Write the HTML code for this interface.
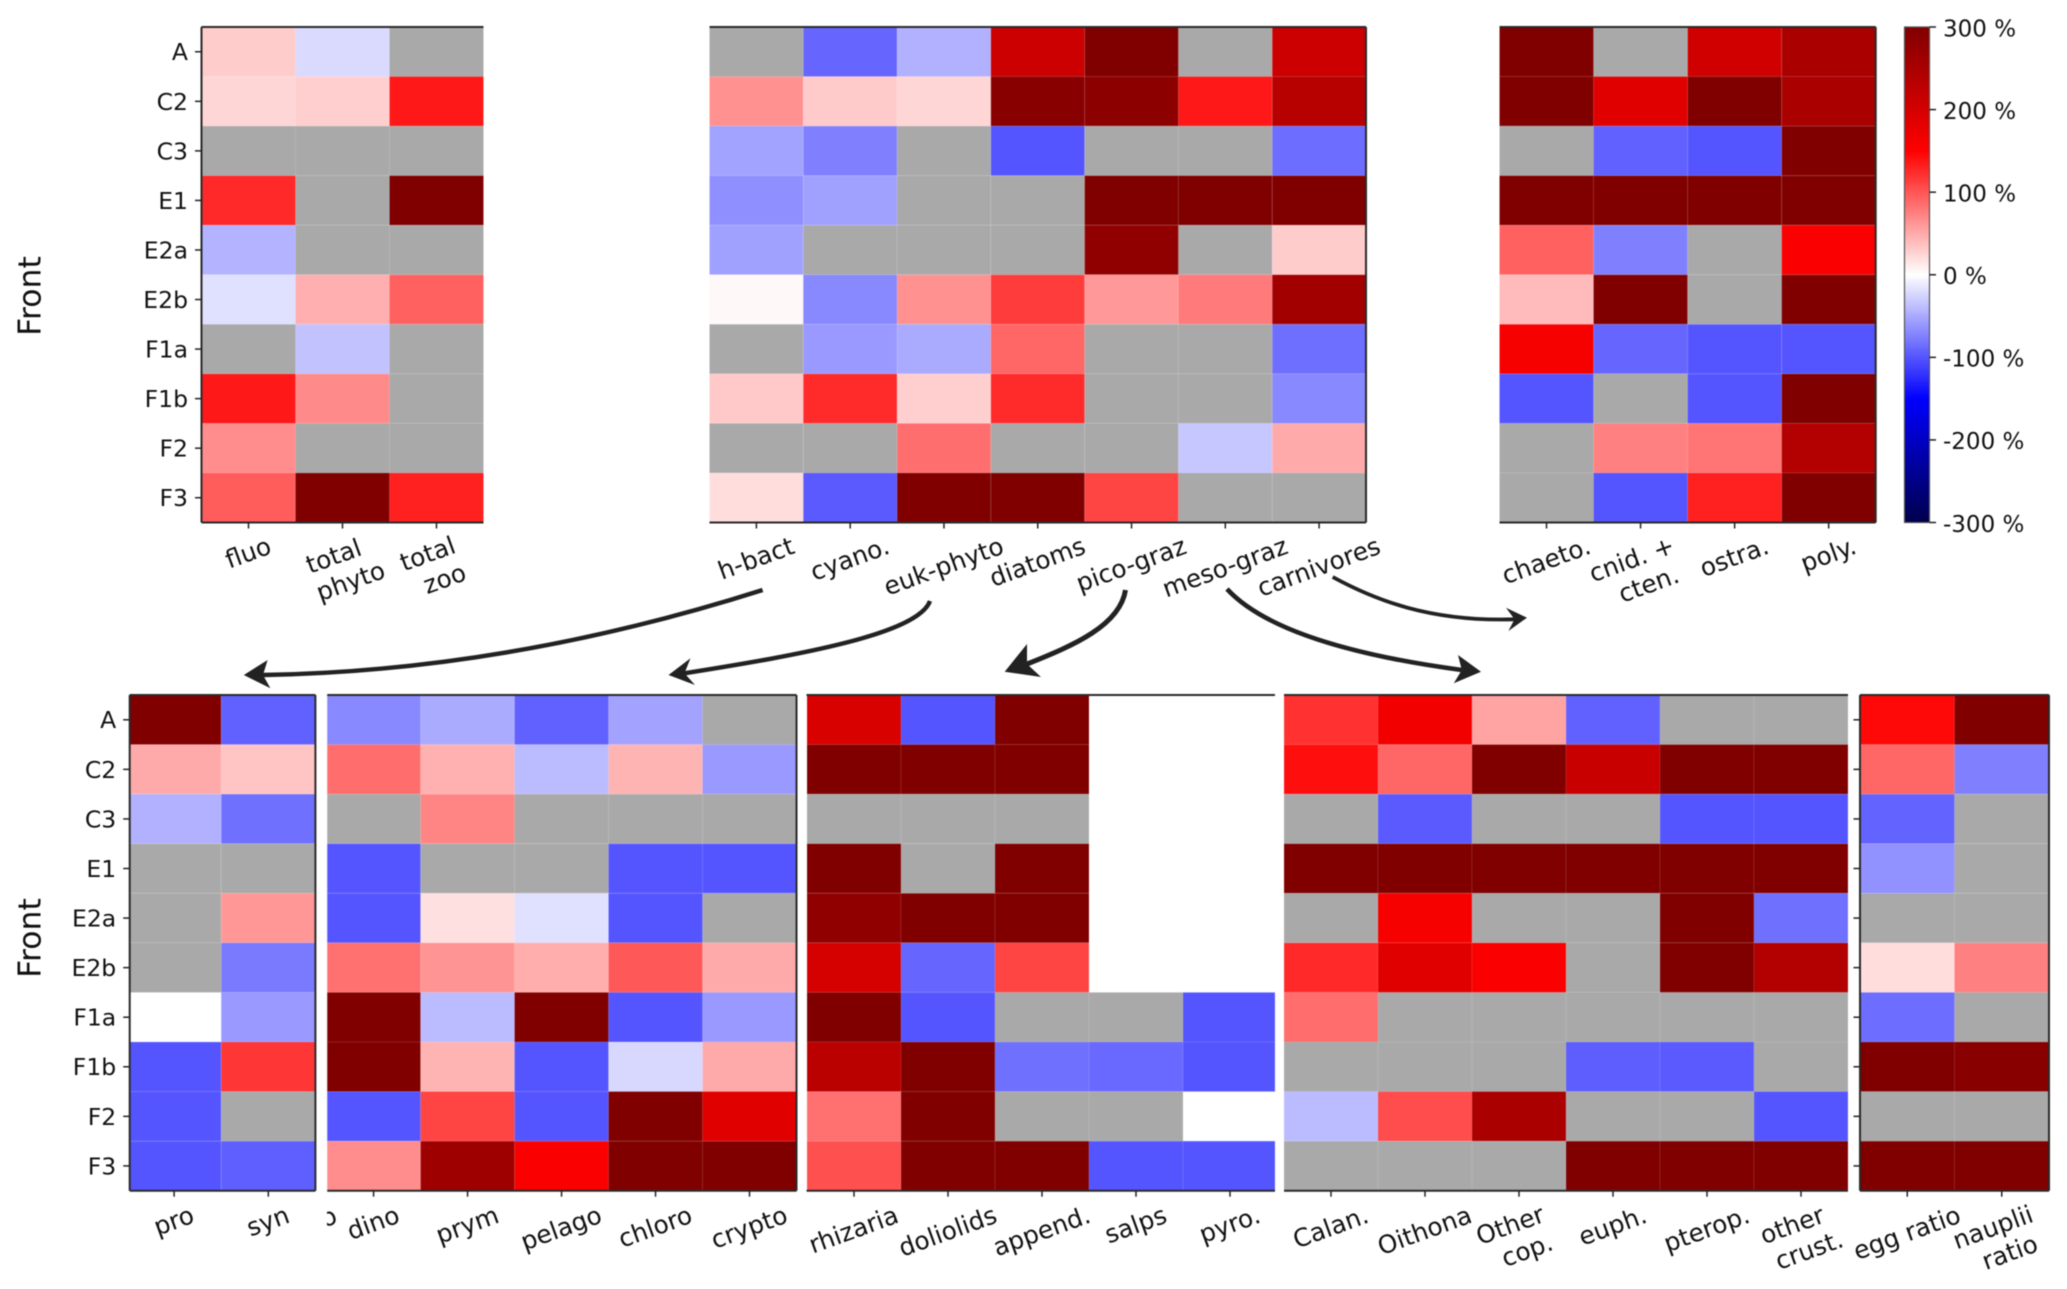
<!DOCTYPE html>
<html lang="en">
<head>
<meta charset="utf-8">
<title>Front heatmaps</title>
<style>
  html, body { margin: 0; padding: 0; background: #fff; }
  svg { display: block; filter: blur(0.45px); }
  text { font-family: "DejaVu Sans", "Liberation Sans", sans-serif; fill: #111; }
</style>
</head>
<body>
<svg id="figure" xmlns="http://www.w3.org/2000/svg" width="2067" height="1289" viewBox="0 0 2067 1289">
  <defs>
    <linearGradient id="seismic-gradient" x1="0" y1="0" x2="0" y2="1">
      <stop offset="0" stop-color="#800000"/>
      <stop offset="0.25" stop-color="#ff0000"/>
      <stop offset="0.5" stop-color="#ffffff"/>
      <stop offset="0.75" stop-color="#0000ff"/>
      <stop offset="1" stop-color="#00004c"/>
    </linearGradient>
  </defs>
  <rect x="0" y="0" width="2067" height="1289" fill="#ffffff"/>
  <g id="heatmaps"></g>
  <g id="colorbar">
    <rect x="1904.5" y="27" width="25" height="495.5" fill="url(#seismic-gradient)" stroke="#555" stroke-width="1.2"/>
  </g>
  <text transform="translate(29,296) rotate(-90)" text-anchor="middle" dy="0.36em" font-size="31.5">Front</text>
  <text transform="translate(29,938) rotate(-90)" text-anchor="middle" dy="0.36em" font-size="31.5">Front</text>

  <text transform="translate(329,1218) rotate(-20)" text-anchor="middle" dy="0.3em" font-size="24.8">o</text>
  <rect x="316.5" y="1200" width="10.5" height="40" fill="#ffffff"/>

  <g fill="#222222">
    <g>
      <path d="M762.6,590 Q507.8,671 263,675" fill="none" stroke="#222222" stroke-width="4.4"/>
      <polygon points="243.8,675 267.6,660 263,675 270.4,688.3"/>
    </g>
    <g>
      <path d="M930,601 C918,634 800,655 684.5,673.3" fill="none" stroke="#222222" stroke-width="4.4"/>
      <polygon points="668.5,675 690.5,658.3 684.5,673.3 695,685"/>
    </g>
    <g>
      <path d="M1125.5,590 C1120,625 1075,645 1027,664" fill="none" stroke="#222222" stroke-width="5"/>
      <polygon points="1004.7,671.7 1027,644 1027,664 1041,677"/>
    </g>
    <g>
      <path d="M1227,589 C1265,630 1350,655 1461.8,670" fill="none" stroke="#222222" stroke-width="4.6"/>
      <polygon points="1481,671.7 1458,655 1461.8,670 1453.8,683.3"/>
    </g>
    <g>
      <path d="M1332.7,577 C1375,600 1430,622 1514.5,619.3" fill="none" stroke="#222222" stroke-width="3.8"/>
      <polygon points="1527,617.7 1506,607.7 1514.5,619.3 1508.4,631"/>
    </g>
  </g>
</svg>
<script>
// null = grey (not significant), BLANK = no cell at all
const BLANK = '';
const N = null;

const frontLabels = ['A', 'C2', 'C3', 'E1', 'E2a', 'E2b', 'F1a', 'F1b', 'F2', 'F3'];
const colorbarTicks = [300, 200, 100, 0, -100, -200, -300];

const bulkCategories = ['fluo', 'total\nphyto', 'total\nzoo'];
const bulkValues = [
  [30, -22, N], [24, 28, 136], [N, N, N], [126, N, 300], [-45, N, N],
  [-18, 47, 93], [N, -36, N], [136, 69, N], [67, N, N], [96, 300, 131]
];

const groupCategories = ['h-bact', 'cyano.', 'euk-phyto', 'diatoms', 'pico-graz', 'meso-graz', 'carnivores'];
const groupValues = [
  [N, -90, -46, 210, 300, N, 210],
  [65, 31, 24, 290, 285, 136, 235],
  [-55, -75, N, -100, N, N, -86],
  [-66, -56, N, N, 300, 300, 300],
  [-56, N, N, N, 280, N, 30],
  [4, -70, 65, 115, 60, 78, 260],
  [N, -60, -50, 90, N, N, -85],
  [32, 125, 28, 125, N, N, -70],
  [N, N, 85, N, N, -33, 50],
  [20, -97, 300, 300, 110, N, N]
];

const carnivoreCategories = ['chaeto.', 'cnid. +\ncten.', 'ostra.', 'poly.'];
const carnivoreValues = [
  [300, N, 205, 250],
  [300, 185, 300, 250],
  [N, -93, -100, 300],
  [300, 300, 300, 300],
  [93, -75, N, 155],
  [40, 300, N, 300],
  [160, -90, -100, -100],
  [-100, N, -100, 300],
  [N, 75, 81, 240],
  [N, -100, 131, 300]
];

const prokaryoteCategories = ['pro', 'syn'];
const prokaryoteValues = [
  [300, -93], [50, 35], [-46, -84], [N, N], [N, 61],
  [N, -78], [BLANK, -60], [-100, 118], [-100, N], [-100, -94]
];

const eukaryoteCategories = ['dino', 'prym', 'pelago', 'chloro', 'crypto'];
const eukaryoteValues = [
  [-70, -50, -93, -54, N],
  [86, 46, -40, 44, -60],
  [N, 72, N, N, N],
  [-100, N, N, -100, -100],
  [-100, 18, -18, -100, N],
  [84, 63, 48, 98, 50],
  [300, -40, 300, -100, -60],
  [300, 44, -100, -23, 50],
  [-100, 110, -100, 300, 185],
  [67, 265, 155, 300, 300]
];

const grazerCategories = ['rhizaria', 'doliolids', 'append.', 'salps', 'pyro.'];
const grazerValues = [
  [195, -100, 300, BLANK, BLANK],
  [300, 300, 300, BLANK, BLANK],
  [N, N, N, BLANK, BLANK],
  [300, N, 300, BLANK, BLANK],
  [280, 300, 300, BLANK, BLANK],
  [200, -90, 110, BLANK, BLANK],
  [300, -100, N, N, -100],
  [230, 300, -84, -88, -100],
  [84, 300, N, N, BLANK],
  [103, 300, 300, -100, -100]
];

const mesozooCategories = ['Calan.', 'Oithona', 'Other\ncop.', 'euph.', 'pterop.', 'other\ncrust.'];
const mesozooValues = [
  [121, 165, 54, -93, N, N],
  [142, 90, 300, 215, 300, 300],
  [N, -97, N, N, -100, -100],
  [300, 300, 300, 300, 300, 300],
  [N, 160, N, N, 300, -84],
  [126, 185, 155, N, 300, 240],
  [86, N, N, N, N, N],
  [N, N, N, -95, -97, N],
  [-40, 105, 250, N, N, -100],
  [N, N, N, 300, 300, 300]
];

const ratioCategories = ['egg ratio', 'nauplii\nratio'];
const ratioValues = [
  [145, 300],
  [90, -75],
  [-92, N],
  [-65, N],
  [N, N],
  [20, 75],
  [-86, N],
  [300, 290],
  [N, N],
  [300, 300]
];

const SVG_NS = 'http://www.w3.org/2000/svg';
const X_FONT_SIZE = 24.8;
const Y_FONT_SIZE = 23.5;
const CB_FONT_SIZE = 23;
const ROT = 20 * Math.PI / 180;
const figure = document.getElementById('figure');
const heatmaps = document.getElementById('heatmaps');
const colorbar = document.getElementById('colorbar');

function make(tag, parent, props) {
  const el = document.createElementNS(SVG_NS, tag);
  for (const k in props) el.setAttribute(k, props[k]);
  parent.appendChild(el);
  return el;
}

// matplotlib "seismic" over -300..300
function seismic(v) {
  const t = Math.max(0, Math.min(1, (v + 300) / 600));
  const stops = [[0, 0, 0, 76], [0.25, 0, 0, 255], [0.5, 255, 255, 255], [0.75, 255, 0, 0], [1, 128, 0, 0]];
  for (let i = 1; i < stops.length; i++) {
    if (t <= stops[i][0]) {
      const a = stops[i - 1], b = stops[i];
      const f = (t - a[0]) / (b[0] - a[0]);
      const c = [1, 2, 3].map(function (j) { return Math.round(a[j] + (b[j] - a[j]) * f); });
      return 'rgb(' + c.join(',') + ')';
    }
  }
  return 'rgb(128,0,0)';
}

function kebab(s) {
  return String(s).toLowerCase().replace(/[^a-z0-9]+/g, '-').replace(/^-|-$/g, '');
}

function drawHeatmap(p) {
  const g = make('g', heatmaps, {});
  
  

  const colW = (p.domainRight - p.domainLeft) / p.cats.length;
  const rowH = (p.bottom - p.top) / frontLabels.length;
  const xScale = function (i) { return p.domainLeft + i * colW; };
  const yScale = function (i) { return p.top + i * rowH; };

  p.vals.forEach(function (row, r) {
    row.forEach(function (v, c) {
      if (v === BLANK) return;
      const x0 = Math.max(xScale(c), p.clipLeft);
      const x1 = Math.min(xScale(c + 1), p.clipRight);
      const cell = make('rect', g, {
        x: x0, y: yScale(r), width: x1 - x0, height: rowH,
        fill: v === null ? '#a9a9a9' : seismic(v),
        stroke: 'rgba(255,255,255,0.09)', 'stroke-width': 1
      });
      
      
    });
  });

  const spine = { stroke: '#2a2a2a', 'stroke-width': 2 };
  const spines = {
    top: [p.clipLeft, p.top, p.clipRight, p.top],
    bottom: [p.clipLeft, p.bottom, p.clipRight, p.bottom],
    left: [p.clipLeft, p.top, p.clipLeft, p.bottom],
    right: [p.clipRight, p.top, p.clipRight, p.bottom]
  };
  p.spines.forEach(function (side) {
    const s = spines[side];
    const line = make('line', g, Object.assign({ x1: s[0], y1: s[1], x2: s[2], y2: s[3] }, spine));
    
    
  });

  p.cats.forEach(function (label, i) {
    const cx = xScale(i + 0.5);
    const tick = make('line', g, { x1: cx, y1: p.bottom, x2: cx, y2: p.bottom + 6, stroke: '#222', 'stroke-width': 1.5 });
    
    

    const lines = label.split('\n');
    const nodes = lines.map(function (line) {
      const t = make('text', g, { 'text-anchor': 'middle', 'font-size': X_FONT_SIZE, dy: '0.3em' });
      t.textContent = line;
      
      
      return t;
    });
    const w = Math.max.apply(null, nodes.map(function (t) { return t.getComputedTextLength(); }));
    const blockH = 22 + (lines.length - 1) * 25;
    const cy = p.labelTop + (w * Math.sin(ROT) + blockH * Math.cos(ROT)) / 2;
    nodes.forEach(function (t, k) {
      const off = k - (lines.length - 1) / 2;
      t.setAttribute('transform', 'translate(' + (cx + off * 17) + ',' + (cy + off * 25) + ') rotate(-20)');
    });
  });

  if (p.yLabels) {
    frontLabels.forEach(function (label, r) {
      const cy = yScale(r + 0.5);
      const tick = make('line', g, { x1: p.clipLeft - 6.5, y1: cy, x2: p.clipLeft, y2: cy, stroke: '#222', 'stroke-width': 1.5 });
      
      
      if (p.yLabels === 'text') {
        const t = make('text', g, { x: p.clipLeft - 13.5, y: cy, dy: '0.36em', 'text-anchor': 'end', 'font-size': Y_FONT_SIZE });
        t.textContent = label;
        
        
      }
    });
  }
}

const TOP = { top: 27, bottom: 522.5, labelTop: 535.5 };
const BOT = { top: 695, bottom: 1190.7, labelTop: 1204.5 };

drawHeatmap(Object.assign({ name: 'bulk', cats: bulkCategories, vals: bulkValues, domainLeft: 201.5, domainRight: 483.5, clipLeft: 201.5, clipRight: 483.5, spines: ['top', 'bottom', 'left'], yLabels: 'text' }, TOP));
drawHeatmap(Object.assign({ name: 'group', cats: groupCategories, vals: groupValues, domainLeft: 709.5, domainRight: 1366, clipLeft: 709.5, clipRight: 1366, spines: ['top', 'bottom', 'right'] }, TOP));
drawHeatmap(Object.assign({ name: 'carnivore', cats: carnivoreCategories, vals: carnivoreValues, domainLeft: 1499.5, domainRight: 1875.7, clipLeft: 1499.5, clipRight: 1875.7, spines: ['top', 'bottom', 'right'] }, TOP));
drawHeatmap(Object.assign({ name: 'prokaryote', cats: prokaryoteCategories, vals: prokaryoteValues, domainLeft: 127, domainRight: 315.4, clipLeft: 129.7, clipRight: 315.4, spines: ['top', 'bottom', 'left', 'right'], yLabels: 'text' }, BOT));
drawHeatmap(Object.assign({ name: 'eukaryote', cats: eukaryoteCategories, vals: eukaryoteValues, domainLeft: 326.6, domainRight: 796.5, clipLeft: 327.2, clipRight: 796.5, spines: ['top', 'bottom', 'right'] }, BOT));
drawHeatmap(Object.assign({ name: 'grazer', cats: grazerCategories, vals: grazerValues, domainLeft: 807, domainRight: 1277, clipLeft: 806.5, clipRight: 1275, spines: ['top', 'bottom'] }, BOT));
drawHeatmap(Object.assign({ name: 'mesozooplankton', cats: mesozooCategories, vals: mesozooValues, domainLeft: 1284, domainRight: 1848, clipLeft: 1284, clipRight: 1848, spines: ['top', 'bottom'] }, BOT));
drawHeatmap(Object.assign({ name: 'ratio', cats: ratioCategories, vals: ratioValues, domainLeft: 1860, domainRight: 2049, clipLeft: 1860, clipRight: 2049, spines: ['top', 'bottom', 'left', 'right'], yLabels: 'ticks' }, BOT));

function colorbarY(v) {
  return 27 + (300 - v) / 600 * 495.5;
}

colorbarTicks.forEach(function (v) {
  const y = colorbarY(v);
  const tick = make('line', colorbar, { x1: 1929.5, y1: y, x2: 1936, y2: y, stroke: '#222', 'stroke-width': 1.5 });
  
  
  const t = make('text', colorbar, { x: 1943, y: y + 1, dy: '0.36em', 'font-size': CB_FONT_SIZE });
  t.textContent = v + ' %';
  
  
});
</script>
</body>
</html>
